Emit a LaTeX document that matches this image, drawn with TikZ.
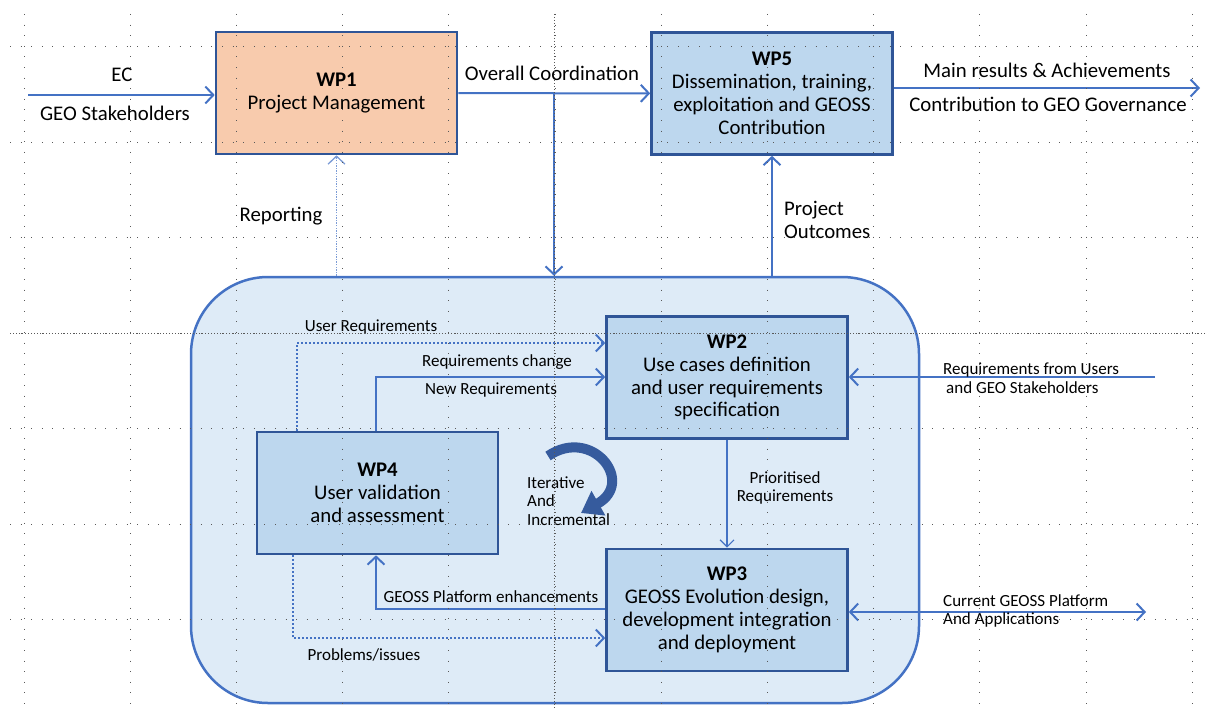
\documentclass[tikz,border=0pt]{standalone}
\usepackage{fontspec}
\setmainfont{Carlito}
\usetikzlibrary{arrows.meta,positioning}

\definecolor{flowblue}{HTML}{4472C4}
\definecolor{wpedge}{HTML}{2F5597}
\definecolor{wpfill}{HTML}{BDD7EE}
\definecolor{pmfill}{HTML}{F8CBAD}
\definecolor{framefill}{HTML}{DEEBF7}

\newcommand{\boxfont}{\fontsize{20.8}{22.8}\selectfont}
\newcommand{\lblfont}{\fontsize{17}{18.5}\selectfont}

\tikzset{
	wpbox/.style={draw=wpedge, line width=2.6pt, fill=wpfill, minimum width=241pt, minimum height=122pt, align=center, font=\boxfont, inner sep=0pt},
	flow/.style={draw=flowblue, line width=2pt, -{Straight Barb[length=8pt,width=17pt]}},
	thinflow/.style={draw=flowblue, line width=1.2pt, -{Straight Barb[length=7pt,width=14pt]}},
	dotflow/.style={draw=flowblue, line width=2pt, dash pattern=on 2pt off 2pt, -{Straight Barb[length=8pt,width=17pt]}},
	reportflow/.style={draw=flowblue!70, line width=1.3pt, dash pattern=on 1.3pt off 1.3pt, -{Straight Barb[length=8pt,width=17pt]}},
	biglbl/.style={font=\boxfont, inner sep=0pt},
	smalllbl/.style={font=\lblfont, inner sep=0pt},
	griddot/.style={draw=black!65, line width=1pt, dash pattern=on 1pt off 9.6pt},
	griddense/.style={draw=black!65, line width=1pt, dash pattern=on 1pt off 2pt}
}

\begin{document}
\begin{tikzpicture}[x=1pt,y=-1pt]
		\useasboundingbox (0,0) rectangle (1206,709);
		% big frame round WP2, WP3 and WP4
		\node[draw=flowblue, line width=2.5pt, fill=framefill, rounded corners=77pt, minimum width=728pt, minimum height=426pt] (frame) at (555,490) {};
		% work packages
		\node[wpbox, fill=pmfill] (wp1) at (336.5,93) {\textbf{WP1}\\Project Management};
		\node[wpbox] (wp5) at (772,93.5) {\textbf{WP5}\\Dissemination, training,\\exploitation and GEOSS\\Contribution};
		\node[wpbox] (wp2) at (727,377.5) {\textbf{WP2}\\Use cases definition\\and user requirements\\specification};
		\node[wpbox] (wp3) at (727,610) {\textbf{WP3}\\GEOSS Evolution design,\\development integration\\and deployment};
		\node[wpbox] (wp4) at (377.5,493) {\textbf{WP4}\\User validation\\and assessment};
		% top part
		\coordinate (ecin) at (28,95);
		\draw[flow] (ecin) -- (ecin -| wp1.west);
		\node[biglbl] (ec) at (122,75) {EC};
		\node[biglbl] (geo) at (115,113) {GEO Stakeholders};
		\draw[flow] (wp1) -- (wp5);
		\node[biglbl] (coord) at (552,73) {Overall Coordination};
		\coordinate (split) at (554,94);
		\draw[flow] (split) -- (split |- frame.north);
		\coordinate (resout) at (1200,88);
		\draw[flow] (resout -| wp5.east) -- (resout);
		\node[biglbl] (mainres) at (1047,70) {Main results \& Achievements};
		\node[biglbl] (contrib) at (1048,104) {Contribution to GEO Governance};
		\draw[reportflow] (wp1.south |- frame.north) -- (wp1.south);
		\node[biglbl] (report) at (281,216) {Reporting};
		\draw[flow] (wp5.south |- frame.north) -- (wp5.south);
		\node[biglbl, align=left, anchor=west] (outcomes) at (784,220) {Project\\Outcomes};
		% inside the frame
		\coordinate (ureq) at (297,343);
		\draw[dotflow] (ureq |- wp4.north) -- (ureq) -- (ureq -| wp2.west);
		\node[smalllbl] (ureqlbl) at (371,327) {User Requirements};
		\coordinate (rchg) at (376,377);
		\draw[flow] (rchg |- wp4.north) -- (rchg) -- (rchg -| wp2.west);
		\node[smalllbl] (rchglbl) at (497,362) {Requirements change};
		\node[smalllbl] (newreq) at (491,390) {New Requirements};
		\draw[thinflow] (wp2) -- (wp3);
		\node[smalllbl, align=center] (prio) at (785,488) {Prioritised\\Requirements};
		\coordinate (enh) at (376,609);
		\draw[flow] (enh -| wp3.west) -- (enh) -- (enh |- wp4.south);
		\node[smalllbl] (enhlbl) at (491,597) {GEOSS Platform enhancements};
		\coordinate (prob) at (293,638);
		\draw[dotflow] (prob |- wp4.south) -- (prob) -- (prob -| wp3.west);
		\node[smalllbl] (problbl) at (364,655) {Problems/issues};
		% iterative arrow
		\draw[line width=10pt, draw=flowblue!80!black, -{Triangle[length=20pt,width=27pt]}] (548,456) .. controls (592,426) and (636,482) .. (581,513);
		\node[smalllbl, align=left, anchor=west] (iter) at (527,501) {Iterative\\And\\Incremental};
		% outside the frame
		\coordinate (rfu) at (1155,377);
		\draw[flow] (rfu) -- (rfu -| wp2.east);
		\node[smalllbl, align=left, anchor=west] (rfulbl) at (943,378) {Requirements from Users\\\hspace{3pt}and GEO Stakeholders};
		\coordinate (cgp) at (1146,612);
		\draw[flow, {Straight Barb[length=8pt,width=17pt]}-{Straight Barb[length=8pt,width=17pt]}] (cgp -| wp3.east) -- (cgp);
		\node[smalllbl, align=left, anchor=west] (cgplbl) at (943,611) {Current GEOSS Platform\\And Applications};
		% drawing grid
		\foreach \gx in {0,...,11}
			\draw[griddot] ({24+106.2*\gx},14) -- ({24+106.2*\gx},709);
		\foreach \gy in {0,...,6}
			\draw[griddot] (10,{47+95.4*\gy}) -- (1206,{47+95.4*\gy});
		\draw[griddense] (554,14) -- (554,709);
		\draw[griddense] (10,333) -- (1206,333);
	\end{tikzpicture}
\end{document}
